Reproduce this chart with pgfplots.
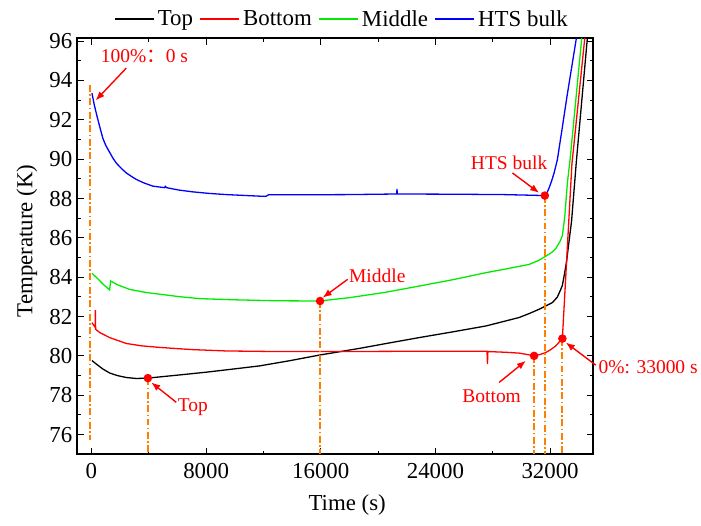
\documentclass[border=0pt]{standalone}
\usepackage{fontspec}
\setmainfont{Liberation Serif}
\newfontfamily\cjk{Noto Sans CJK SC}
\usepackage{pgfplots}
\pgfplotsset{compat=1.18}
\usetikzlibrary{arrows.meta}
\definecolor{myorange}{RGB}{255,128,0}
\definecolor{mygreen}{RGB}{0,235,0}
\begin{document}
\begin{tikzpicture}[font=\fontsize{23}{27}\selectfont]
\begin{axis}[
  scale only axis, width=517.2bp, height=417bp,
  xmin=-1000, xmax=35000, ymin=75, ymax=96.15,
  xtick={0,8000,16000,24000,32000}, minor x tick num=1,
  ytick={76,78,...,96}, minor y tick num=1,
  scaled x ticks=false,
  /pgf/number format/assume math mode=true,
  /pgf/number format/1000 sep={},
  tick align=inside,
  axis line style={line width=1.6bp},
  major tick length=6.5bp, minor tick length=3.5bp,
  every tick/.style={black, line width=1.2bp},
  xticklabel style={yshift=-5.4bp},
  yticklabel style={xshift=-1.4bp},
  xlabel={Time (s)}, ylabel={Temperature (K)},
  xlabel style={at={(axis description cs:0.5234,-0.1216)}, anchor=center},
  ylabel style={at={(axis description cs:-0.0973,0.5127)}, anchor=center},
  clip=false,
  legend columns=-1,
  legend style={at={(axis description cs:0.5137,1)}, anchor=south, yshift=8bp,
    draw=none, fill=none, inner sep=0pt, nodes={inner sep=2.5bp},
    /tikz/every odd column/.append style={column sep=1bp},
    /tikz/every even column/.append style={column sep=4bp}},
  legend image code/.code={\draw[mark repeat=2,mark phase=2,#1] plot coordinates {(0bp,0bp) (19.5bp,0bp) (39bp,0bp)};},
  every axis plot/.append style={line width=1.3bp},
]
% Top (black)
\addplot[black, line width=1.3bp] coordinates {
(35,79.76) (400,79.55) (800,79.33) (1268,79.13) (1800,79.00) (2432,78.90) (3129,78.85) (3937,78.87)
(6000,79.02) (8000,79.17) (10000,79.34) (11721,79.49) (13800,79.75) (15902,80.04) (18690,80.38)
(20800,80.66) (22871,80.93) (25200,81.22) (27519,81.52) (29840,81.95) (30537,82.15) (31233,82.37)
(31700,82.54) (32160,82.71) (32500,82.98) (32746,83.38) (32857,83.59) (33000,84.15) (33150,84.80)
(33300,85.70) (33498,86.85) (33826,89.83) (34599,96.15)};
\addlegendentry{Top}
% Bottom (red)
\addplot[red, line width=1.3bp] coordinates {
(35,81.69) (272,81.44) (272,82.32) (293,81.35) (571,81.19) (1268,80.93) (2432,80.63) (3500,80.51)
(4753,80.43) (7000,80.32) (9401,80.25) (13000,80.22) (17000,80.22) (21000,80.23) (25000,80.24)
(27600,80.23) (27631,79.58) (27660,80.22) (29000,80.18) (29840,80.14) (30400,80.07) (30885,80.00)
(31300,80.07) (31700,80.17) (32050,80.32) (32397,80.51) (32857,80.88) (33519,89.72) (34418,96.15)};
\addlegendentry{Bottom}
% Middle (green)
\addplot[mygreen, line width=1.3bp] coordinates {
(35,84.20) (400,83.95) (800,83.65) (1268,83.35) (1338,83.81) (1800,83.62) (2662,83.38) (3826,83.22)
(6146,83.01) (7540,82.91) (10000,82.85) (13000,82.80) (15951,82.79) (18000,82.96) (20500,83.23)
(22871,83.55) (25200,83.87) (27519,84.23) (29000,84.43) (30537,84.65) (31200,84.85) (31700,85.07)
(32100,85.25) (32397,85.46) (32697,85.82) (32857,86.12) (33024,87.09) (33206,88.80) (33394,89.98)
(34209,96.15)};
\addlegendentry{Middle}
% HTS bulk (blue)
\addplot[blue, line width=1.3bp] coordinates {
(35,93.36) (200,92.75) (400,92.15) (571,91.67) (800,91.05) (1000,90.70) (1268,90.35) (1500,90.05)
(1735,89.80) (2100,89.52) (2432,89.30) (2800,89.12) (3129,88.97) (3700,88.78) (4286,88.63)
(5100,88.55) (5150,88.62) (5250,88.55) (6100,88.43) (7052,88.34) (8200,88.26) (9400,88.20)
(11721,88.12) (12200,88.12) (12350,88.19) (15000,88.19) (18000,88.20) (21300,88.23) (21317,88.49)
(21340,88.23) (25000,88.22) (28750,88.20) (30500,88.17) (31631,88.15) (31800,88.32) (31930,88.54)
(32100,88.88) (32279,89.30) (32509,89.98) (32850,91.60) (33178,93.19) (33833,96.15)};
\addlegendentry{HTS bulk}
% orange dash-dot guide lines
\pgfplotsset{guide/.style={myorange, line width=1.8bp, dash pattern=on 7bp off 2.5bp on 1.5bp off 2.5bp, forget plot}}
\addplot[guide] coordinates {(-125,93.78) (-125,75.7)};
\addplot[guide] coordinates {(3937,78.87) (3937,75)};
\addplot[guide] coordinates {(15951,82.79) (15951,75)};
\addplot[guide] coordinates {(30885,80.00) (30885,75)};
\addplot[guide] coordinates {(31631,88.15) (31631,75)};
\addplot[guide] coordinates {(32857,80.88) (32857,75)};
% red dots
\addplot[only marks, mark=*, mark size=3.6bp, red, forget plot] coordinates {
(3937,78.87) (15951,82.79) (30885,80.00) (31631,88.15) (32857,80.88)};
% annotations
\tikzset{ann/.style={red, font=\fontsize{19.6}{23}\selectfont},
         arr/.style={red, line width=1.4bp, -{Latex[length=9bp,width=7bp]}}}
\node[ann] at (axis cs:3700,95.22) {100\%{\cjk ：}0 s};
\draw[arr] (axis cs:2432,94.63) -- (axis cs:293,92.99);
\node[ann] at (axis cs:29143,89.81) {HTS bulk};
\draw[arr] (axis cs:29373,89.30) -- (axis cs:31233,88.29);
\node[ann] at (axis cs:19944,84.06) {Middle};
\draw[arr] (axis cs:17875,83.89) -- (axis cs:16132,82.96);
\node[ann] at (axis cs:7073,77.38) {Top};
\draw[arr] (axis cs:5916,77.64) -- (axis cs:4174,78.65);
\node[ann] at (axis cs:27923,77.97) {Bottom};
\draw[arr] (axis cs:28446,78.65) -- (axis cs:30307,79.75);
\node[ann] at (axis cs:38843,79.41) {0\%: 33000 s};
\draw[arr] (axis cs:35185,79.53) -- (axis cs:33094,80.68);
\end{axis}
\path (current axis.south west) ++(-77.3bp,-71.7bp) rectangle ++(701bp,527bp);
\end{tikzpicture}
\end{document}
